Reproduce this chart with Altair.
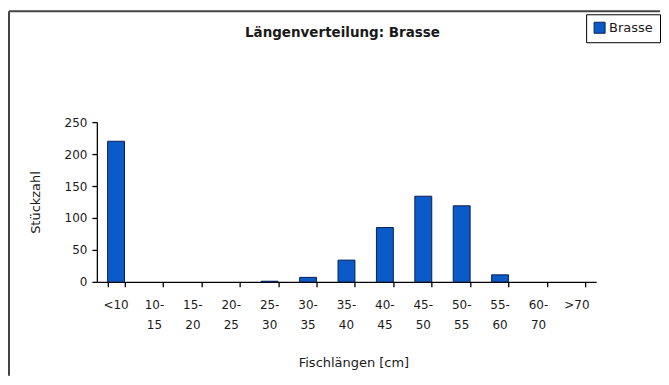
import altair as alt
import pandas as pd

categories = ["<10", "10-15", "15-20", "20-25", "25-30", "30-35", "35-40",
              "40-45", "45-50", "50-55", "55-60", "60-70", ">70"]
counts = [220, 0, 0, 0, 1, 7, 34, 85, 134, 119, 11, 0, 0]
series = ["Brasse"] * len(categories)

line1 = [c.split("-")[0] + "-" if "-" in c else c for c in categories]
line2 = [c.split("-")[1] if "-" in c else "" for c in categories]

df = pd.DataFrame({"Laenge": categories, "Anzahl": counts, "Art": series,
                   "l1": line1, "l2": line2})

FONT = "DejaVu Sans"
TXT = "#1a1a1a"

xenc = alt.X("Laenge:N", sort=categories,
             scale=alt.Scale(paddingInner=0.56, paddingOuter=0.28),
             axis=alt.Axis(title="Fischlängen [cm]", labels=False, tickBand="extent",
                           titlePadding=69, titleX=257))

bars = alt.Chart(df).mark_bar(stroke="#0A1E55", strokeWidth=1).encode(
    x=xenc,
    y=alt.Y("Anzahl:Q", scale=alt.Scale(domain=[0, 250]),
            axis=alt.Axis(values=[0, 50, 100, 150, 200, 250], title="Stückzahl",
                          titlePadding=22, labelPadding=5)),
    strokeOpacity=alt.condition(alt.datum.Anzahl > 0, alt.value(1), alt.value(0)),
    color=alt.Color("Art:N", scale=alt.Scale(range=["#0A5AC8"]),
                    legend=alt.Legend(title=None, orient="none", legendX=490, legendY=-108,
                                      strokeColor="black", padding=7, symbolType="square",
                                      symbolSize=121, symbolStrokeColor="#0A1E55",
                                      symbolStrokeWidth=1, labelFontSize=13,
                                      labelFont=FONT, labelColor=TXT, labelOffset=3)),
)

lab1 = alt.Chart(df).mark_text(font=FONT, fontSize=12, color=TXT, baseline="middle").encode(
    x=alt.X("Laenge:N", sort=categories), y=alt.value(183), text="l1:N"
)
lab2 = alt.Chart(df).mark_text(font=FONT, fontSize=12, color=TXT, baseline="middle").encode(
    x=alt.X("Laenge:N", sort=categories), y=alt.value(203), text="l2:N"
)

one = pd.DataFrame({"a": [0]})
top_line = alt.Chart(one).mark_rule(color="#444", strokeWidth=2, clip=False).encode(
    x=alt.value(-88), x2=alt.value(564), y=alt.value(-111)
)
left_line = alt.Chart(one).mark_rule(color="#444", strokeWidth=2, clip=False).encode(
    x=alt.value(-88), y=alt.value(-111), y2=alt.value(254)
)

chart = alt.layer(top_line, left_line, bars, lab1, lab2).properties(
    width=500, height=160,
    padding={"left": 0, "top": 2, "right": 0, "bottom": 0},
    title=alt.TitleParams("Längenverteilung: Brasse", font=FONT, fontSize=13.5,
                          fontWeight="bold", color=TXT, anchor="middle",
                          offset=-29, dx=-4),
).configure_view(stroke=None).configure_axis(
    labelFont=FONT, titleFont=FONT, labelFontSize=12, titleFontSize=13,
    titleFontWeight="normal", labelColor=TXT, titleColor=TXT,
    domainColor="black", tickColor="black", tickSize=5, grid=False,
    domainWidth=1.3, tickWidth=1.3
)

chart.save("out.html", embed_options={"renderer": "svg", "actions": False})
